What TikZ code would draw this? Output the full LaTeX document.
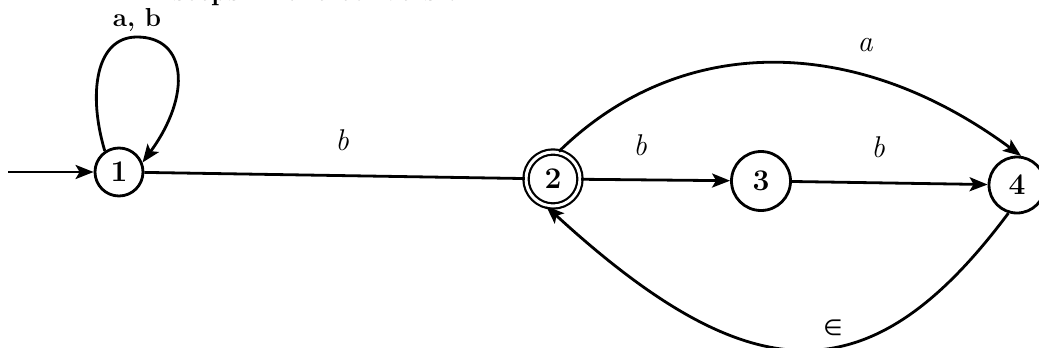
\documentclass[tikz,border=0pt]{standalone}
\usepackage{fontspec}
\newfontfamily\symfont{DejaVu Sans}
\usetikzlibrary{arrows.meta}
\begin{document}
\begin{tikzpicture}[x=1pt,y=-1pt,
  line width=2.8pt,
  statebox/.style={circle,draw,line width=2.8pt,inner sep=0pt,font=\fontsize{30}{34}\selectfont\bfseries},
  acceptbox/.style={circle,draw,double,double distance=3pt,line width=2.2pt,inner sep=0pt,minimum size=54pt,font=\fontsize{30}{34}\selectfont\bfseries},
  arr/.style={-{Stealth[length=18pt,width=14pt,inset=4pt]}},
  lbl/.style={font=\fontsize{30}{34}\selectfont\itshape},
  lblb/.style={font=\fontsize{26}{30}\selectfont\bfseries},
  topline/.style={font=\fontsize{27}{30}\selectfont\bfseries,anchor=base west,inner sep=0pt}]
\useasboundingbox (0,0) rectangle (1039,348);
\clip (0,0) rectangle (1039,348);
\node[topline] (top) at (172,1) {steps in the conversion :};
\node[statebox,minimum size=48pt] (n1) at (119,172) {1};
\node[acceptbox] (n2) at (553,179) {2};
\node[statebox,minimum size=59pt] (n3) at (761,181) {3};
\node[statebox,minimum size=56pt] (n4) at (1017,185) {4};
\coordinate (s0) at (8,172);
\draw[arr] (s0) -- (n1);
\draw[arr] (n1.124) .. controls (88,95) and (95,37) .. (137,37)
  .. controls (187,37) and (192,95) .. (n1.22);
\node[lblb] (lab) at (137,20) {a, b};
\draw (n1) -- (n2);
\node[lbl] (lb1) at (342,140) {b};
\draw[arr] (n2) -- (n3);
\node[lbl] (lb2) at (640,145) {b};
\draw[arr] (n3) -- (n4);
\node[lbl] (lb3) at (878,147) {b};
\draw[arr] (n2.78) .. controls (680,33) and (855,33) .. (n4.82);
\node[lbl] (la) at (865,45) {a};
\draw[arr] (n4.253) .. controls (872,396) and (753,396) .. (n2.256);
\node[font=\fontsize{22}{26}\selectfont\symfont] (le) at (833,328) {∈};
\end{tikzpicture}
\end{document}
